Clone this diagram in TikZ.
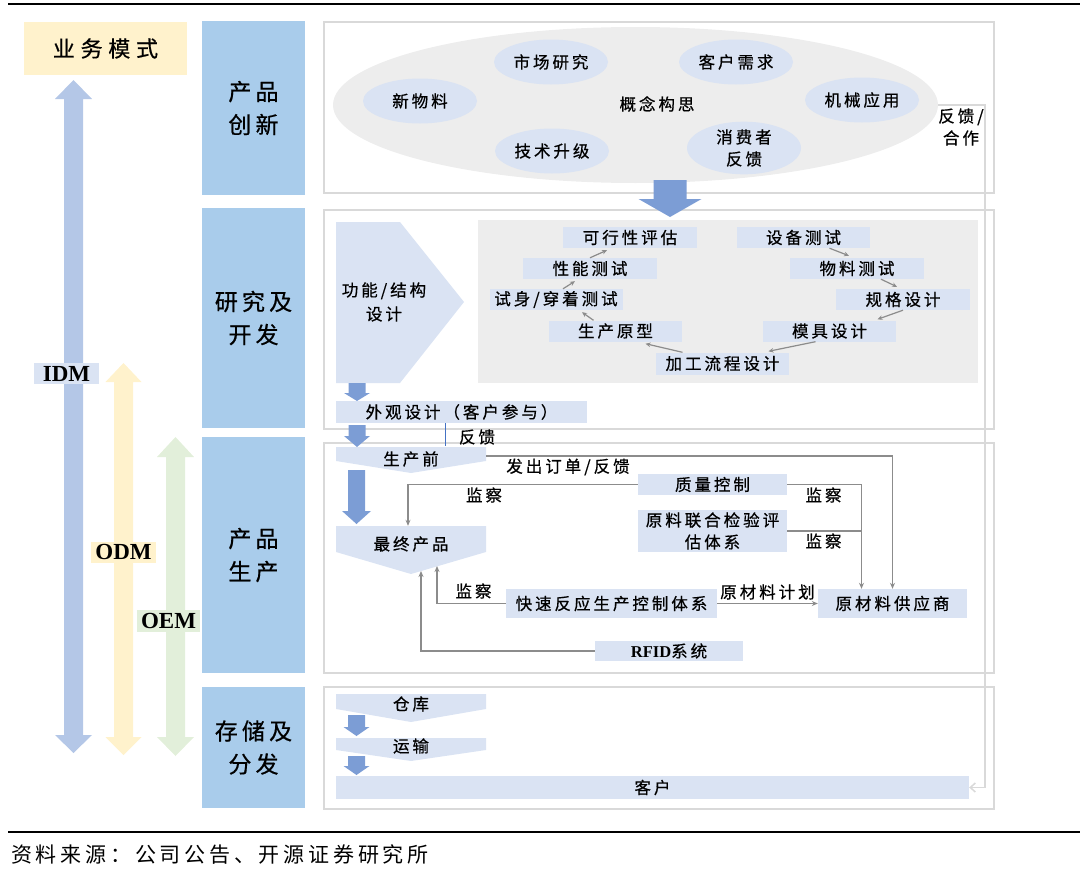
\documentclass[tikz,border=0pt]{standalone}
\usepackage{fontspec}
\setmainfont{Noto Sans CJK SC}
\newfontfamily\cjk[LetterSpace=18,FakeBold=0.6]{Noto Sans CJK SC}
\newfontfamily\cjkw[LetterSpace=26,FakeBold=0.6]{Noto Sans CJK SC}
\newfontfamily\cjksrc[LetterSpace=18]{Noto Sans CJK SC}
\newfontfamily\tnr{Liberation Serif}
\usetikzlibrary{arrows.meta,shapes.geometric,calc}
\definecolor{colblue}{HTML}{A9CCEB}
\definecolor{ylw}{HTML}{FFF2CC}
\definecolor{lblue}{HTML}{DAE3F3}
\definecolor{grn}{HTML}{E2EFDA}
\definecolor{idmblue}{HTML}{B4C7E7}
\definecolor{panel}{HTML}{EDEDED}
\definecolor{framec}{HTML}{D9D9D9}
\definecolor{barrow}{HTML}{7C9DD5}
\definecolor{tblue}{HTML}{4472C4}
\definecolor{garrow}{HTML}{8C8C8C}
\newcommand\bdarrow[6]{% cx top base tip halfshaft halfhead
  \fill[barrow] (#1-#5,#2) -- (#1+#5,#2) -- (#1+#5,#3) -- (#1+#6,#3) -- (#1,#4) -- (#1-#6,#3) -- (#1-#5,#3) -- cycle;}
\newcommand\vdarr[8]{% color cx toptip topbase botbase bottip halfshaft halfhead
  \fill[#1] (#2,#3) -- (#2+#8,#4) -- (#2+#7,#4) -- (#2+#7,#5) -- (#2+#8,#5) -- (#2,#6) -- (#2-#8,#5) -- (#2-#7,#5) -- (#2-#7,#4) -- (#2-#8,#4) -- cycle;}
\tikzset{
  secbox/.style={fill=colblue, inner sep=0pt, minimum width=103pt, align=center, font=\cjk\fontsize{23}{33}\selectfont},
  lbox/.style={fill=lblue, inner sep=0pt, align=center, font=\cjk\fontsize{16.5}{22}\selectfont},
  txt/.style={inner sep=0pt, align=center, font=\cjk\fontsize{16.5}{22}\selectfont},
  frm/.style={draw=framec, line width=1.5pt},
  sell/.style={ellipse, fill=lblue, inner sep=0pt, minimum width=114pt, minimum height=45pt, align=center, font=\cjk\fontsize{16.5}{22}\selectfont},
  garr/.style={draw=garrow, line width=1.3pt, -{Stealth[length=6pt,width=5pt]}},
  gline/.style={draw=garrow, line width=1.3pt},
  sarr/.style={draw=garrow, line width=1.2pt, -{Stealth[length=5pt,width=4.5pt]}},
  fb/.style={draw=framec, line width=1.5pt, -{Straight Barb[length=5pt,width=9pt]}},
  mlab/.style={inner sep=0pt, font=\tnr\bfseries\fontsize{23}{23}\selectfont},
  chev/.style={fill=lblue}
}
\begin{document}
\begin{tikzpicture}[x=1pt,y=-1pt]
\useasboundingbox (0,0) rectangle (1080,870);
% rules
\coordinate (r1a) at (8,4); \coordinate (r1b) at (1080,4);
\coordinate (r2a) at (8,832); \coordinate (r2b) at (1080,832);
\draw[line width=1.5pt] (r1a) -- (r1b);
\draw[line width=2pt] (r2a) -- (r2b);
\node[anchor=west, inner sep=0pt, font=\cjksrc\fontsize{21}{21}\selectfont] (src) at (11,855) {资料来源：公司公告、开源证券研究所};

% business model
\node[fill=ylw, inner sep=0pt, minimum width=163pt, minimum height=53pt, font=\cjkw\fontsize{22}{22}\selectfont] (bm) at (105.5,48.5) {业务模式};
\vdarr{idmblue}{73.5}{80}{99}{735}{753}{9.5}{18.5}
\vdarr{ylw}{123.5}{363}{382}{737}{755}{9.5}{18}
\vdarr{grn}{175.5}{437}{457}{737}{756}{9.5}{18.5}
\node[mlab, fill=lblue, minimum width=65pt, minimum height=21pt] (idm) at (66.5,373.5) {IDM};
\node[mlab, fill=ylw, minimum width=65pt, minimum height=21pt] (odm) at (123.5,552) {ODM};
\node[mlab, fill=grn, minimum width=63pt, minimum height=22pt] (oem) at (168.5,621) {OEM};

% section labels
\node[secbox, minimum height=174pt] (s1) at (253.5,108) {产品\\创新};
\node[secbox, minimum height=220pt] (s2) at (253.5,318) {研究及\\开发};
\node[secbox, minimum height=236pt] (s3) at (253.5,555) {产品\\生产};
\node[secbox, minimum height=121pt] (s4) at (253.5,747.5) {存储及\\分发};

% frames
\draw[frm] (324,22) rectangle (994,193);
\draw[frm] (324,210) rectangle (994,429);
\draw[frm] (324,443) rectangle (994,673);
\draw[frm] (324,687) rectangle (994,809);

% ---- section 1
\node[ellipse, fill=panel, inner sep=0pt, minimum width=605pt, minimum height=156pt] (concept) at (635.5,105) {};
\node[txt] (ctext) at (657,104) {概念构思};
\node[sell] (e1) at (420,101) {新物料};
\node[sell] (e2) at (551,62) {市场研究};
\node[sell] (e3) at (736,62) {客户需求};
\node[sell] (e4) at (862,100) {机械应用};
\node[sell] (e5) at (552,151) {技术升级};
\node[sell, minimum height=49pt] (e6) at (744,148) {消费者\\反馈};
\node[txt] (fbt) at (961,127) {反馈/\\合作};
\bdarrow{670}{180}{199}{217}{16.5}{31.5}

% ---- section 2
\fill[lblue] (336,222) -- (400,222) -- (464,302) -- (400,383) -- (336,383) -- cycle;
\node[txt, font=\cjk\fontsize{16.5}{24}\selectfont] (func) at (384,302) {功能/结构\\设计};
\fill[panel] (478,220) rectangle (978,383);
\node[lbox, minimum width=134pt, minimum height=21pt] (feas) at (630,237.5) {可行性评估};
\node[lbox, minimum width=133pt, minimum height=21pt] (equip) at (803.5,237.5) {设备测试};
\node[lbox, minimum width=134pt, minimum height=21pt] (perf) at (590,268.5) {性能测试};
\node[lbox, minimum width=134pt, minimum height=21pt] (mat) at (857,268.5) {物料测试};
\node[lbox, minimum width=133pt, minimum height=21pt] (tryon) at (556,299.5) {试身/穿着测试};
\node[lbox, minimum width=134pt, minimum height=21pt] (spec) at (903,299.5) {规格设计};
\node[lbox, minimum width=133pt, minimum height=21pt] (proto) at (615.5,331) {生产原型};
\node[lbox, minimum width=133pt, minimum height=21pt] (mold) at (829.5,331) {模具设计};
\node[lbox, minimum width=133pt, minimum height=22pt] (proc) at (722.5,363.5) {加工流程设计};
\draw[sarr] (perf.north) -- ([xshift=-23pt,yshift=-2pt]feas.south);
\draw[sarr] ([xshift=7pt]tryon.north) -- ([xshift=-15pt,yshift=-2pt]perf.south);
\draw[sarr] ([xshift=-22pt]proto.north) -- ([xshift=26pt,yshift=-2pt]tryon.south);
\draw[sarr] ([xshift=-40pt]proc.north) -- ([xshift=30pt,yshift=-2pt]proto.south);
\draw[sarr] ([xshift=-14pt]mold.south) -- ([xshift=46pt,yshift=1pt]proc.north);
\draw[sarr] (spec.south) -- ([xshift=48pt,yshift=1pt]mold.north);
\draw[sarr] ([xshift=24pt]mat.south) -- ([xshift=-6pt,yshift=2pt]spec.north);
\draw[sarr] ([xshift=26pt]equip.south) -- ([xshift=-8pt,yshift=2pt]mat.north);
\bdarrow{357}{383}{393}{401}{8.5}{13}
\node[lbox, minimum width=251pt, minimum height=22pt] (ext) at (461.5,412) {外观设计（客户参与）};
\bdarrow{357}{425}{436}{447}{8.5}{13}

% ---- section 3
\fill[chev] (336,447) -- (486,447) -- (486,461) -- (411,473) -- (336,461) -- cycle;
\node[txt, minimum width=150pt, minimum height=26pt] (pre) at (411,459) {生产前};
\draw[tblue, line width=1pt] ([xshift=-16.5pt]ext.south) -- ([xshift=34pt]pre.north);
\node[txt] (fbl) at (477,437) {反馈};
\bdarrow{356.5}{470}{511}{524}{8.5}{14.5}
\fill[chev] (336,526) -- (486,526) -- (486,552) -- (411,574) -- (336,552) -- cycle;
\node[txt, minimum width=150pt, minimum height=36pt] (fp) at (411,544) {最终产品};
\coordinate (fpR) at (437,566);
\coordinate (fpL) at (421,571);
\node[lbox, minimum width=149pt, minimum height=21pt] (qc) at (712.5,484.5) {质量控制};
\node[lbox, minimum width=149pt, minimum height=42pt] (raw) at (712.5,531) {原料联合检验评\\估体系};
\node[lbox, minimum width=211pt, minimum height=29pt] (fast) at (611.5,603.5) {快速反应生产控制体系};
\node[lbox, minimum width=149pt, minimum height=29pt] (supp) at (892.5,603.5) {原材料供应商};
\node[lbox, minimum width=148pt, minimum height=20pt] (rfid) at (669,651) {{\tnr\bfseries RFID}系统};
\coordinate (sv) at ([xshift=-31pt]supp.north);
\draw[garr] ([yshift=3pt]pre.east) -| (supp.north);
\node[txt] (l1) at (568,467) {发出订单/反馈};
\draw[garr] (qc.west) -| ([xshift=-3pt]fp.north);
\node[txt] (l2) at (484,495) {监察};
\draw[garr] (qc.east) -| (sv);
\node[txt] (l3) at (823.5,495) {监察};
\draw[gline] (raw.east) -- (raw.east -| sv);
\node[txt] (l4) at (823.5,541) {监察};
\draw[garr] (fast.west) -| (fpR);
\node[txt] (l5) at (473.5,591) {监察};
\draw[garr] (fast.east) -- (supp.west);
\node[txt] (l6) at (767.5,592) {原材料计划};
\draw[garr] (rfid.west) -| (fpL);

% ---- section 4
\fill[chev] (336,694) -- (486,694) -- (486,709) -- (411,722) -- (336,709) -- cycle;
\node[txt, minimum width=150pt, minimum height=20pt] (wh) at (411,704) {仓库};
\bdarrow{356.5}{715}{727}{736}{8.5}{13}
\fill[chev] (336,738) -- (486,738) -- (486,750) -- (411,761) -- (336,750) -- cycle;
\node[txt, minimum width=150pt, minimum height=20pt] (tr) at (411,746) {运输};
\bdarrow{356.5}{756}{766}{775}{8.5}{13}
\node[lbox, minimum width=633pt, minimum height=23pt] (cust) at (652.5,787.5) {客户};

% feedback loop
\draw[fb] (concept.east) -- ++(47,0) |- (cust.east);
\end{tikzpicture}
\end{document}
